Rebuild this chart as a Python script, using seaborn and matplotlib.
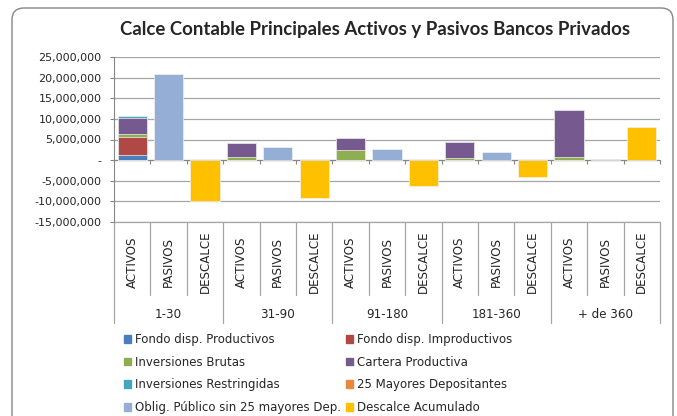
import numpy as np
import pandas as pd
import matplotlib
matplotlib.use("Agg")
import matplotlib.pyplot as plt
import matplotlib.transforms as mtransforms
from matplotlib.patches import Patch, FancyBboxPatch
from matplotlib.ticker import FuncFormatter
import seaborn as sns

sns.set_style("white")
plt.rcParams['font.family'] = ['DejaVu Sans']

# plazos y tipos de barra
plazos = ["1-30", "31-90", "91-180", "181-360", "+ de 360"]
tipos = ["ACTIVOS", "PASIVOS", "DESCALCE"]

# valores en millones
# ACTIVOS
fondo_prod = [1.2, 0, 0, 0, 0]
fondo_improd = [4.45, 0, 0, 0, 0]
inv_brutas = [0.65, 0.73, 2.35, 0.5, 0.73]
cartera = [3.9, 3.5, 3.05, 3.87, 11.47]
inv_restr = [0.5, 0, 0, 0, 0]
# PASIVOS
mayores_25 = [0, 0, 0, 0, 0]
oblig_publico = [20.8, 3.07, 2.67, 1.94, 0.24]
# DESCALCE
descalce = [-9.95, -9.1, -6.3, -4.04, 8.1]

# colores
c_fprod = "#4A7EBB"
c_fimp = "#B04845"
c_inv = "#8FAE52"
c_cart = "#76598F"
c_restr = "#46A5BE"
c_may = "#E8883E"
c_obl = "#95AED5"
c_desc = "#FFC000"

keys = [p + "|" + t for p in plazos for t in tipos]

fig = plt.figure(figsize=(6.77, 4.16), dpi=100)
ax = fig.add_axes([114 / 677, 1 - 222 / 416, 546 / 677, 165 / 416])


def barras(valores, tipo, color):
    df = pd.DataFrame({"barra": [p + "|" + tipo for p in plazos],
                       "valor": np.array(valores) * 1e6})
    df = df[df["valor"] != 0]
    if len(df) == 0:
        return
    sns.barplot(data=df, x="barra", y="valor", order=keys, color=color,
                saturation=1, width=0.8, edgecolor="#f2f2f2", linewidth=0.5,
                errorbar=None, ax=ax, zorder=3)


# ACTIVOS apilados (se pintan los acumulados de arriba hacia abajo)
capas = [(fondo_prod, c_fprod), (fondo_improd, c_fimp), (inv_brutas, c_inv),
         (cartera, c_cart), (inv_restr, c_restr)]
acum = np.cumsum([np.array(v) for v, c in capas], axis=0)
for k in range(len(capas) - 1, -1, -1):
    barras(acum[k], "ACTIVOS", capas[k][1])

# PASIVOS
barras(np.array(mayores_25) + np.array(oblig_publico), "PASIVOS", c_obl)
barras(mayores_25, "PASIVOS", c_may)

# DESCALCE
barras(descalce, "DESCALCE", c_desc)

ax.set_xlim(-0.5, len(keys) - 0.5)
ax.set_ylim(-15e6, 25e6)
ax.set_yticks(np.arange(-15e6, 25e6 + 1, 5e6))
ax.yaxis.set_major_formatter(FuncFormatter(lambda v, p: "-" if v == 0 else f"{v:,.0f}"))
ax.tick_params(axis="y", labelsize=8, length=3, color="#868686", pad=6, left=True)
ax.yaxis.grid(True, color="#a6a6a6", lw=0.9)
ax.axhline(-15e6, color="#a6a6a6", lw=0.9, clip_on=False)
ax.set_axisbelow(True)
ax.set_xlabel("")
ax.set_ylabel("")

for s in ["top", "right"]:
    ax.spines[s].set_visible(False)
ax.spines["left"].set_color("#868686")
ax.spines["bottom"].set_position(("data", 0))
ax.spines["bottom"].set_color("#868686")
ax.set_xticks(np.arange(-0.5, len(keys), 1.0))
ax.set_xticklabels([])
ax.tick_params(axis="x", length=3, color="#868686", bottom=True, direction="out")

# tabla de categorias bajo el grafico
trans = mtransforms.blended_transform_factory(ax.transData, fig.transFigure)
for i, k in enumerate(keys):
    ax.text(i, 1 - 262 / 416, k.split("|")[1], rotation=90, ha="center",
            va="center", fontsize=8.6, transform=trans, clip_on=False)
for g, p in enumerate(plazos):
    ax.text(g * 3 + 1, 1 - 314 / 416, p, ha="center", va="center",
            fontsize=8.6, transform=trans, clip_on=False)
for b in np.arange(-0.5, len(keys), 1.0):
    fin = 323 if (b + 0.5) % 3 == 0 else 295
    ax.plot([b, b], [1 - 222 / 416, 1 - fin / 416], color="#a6a6a6", lw=0.9,
            transform=trans, clip_on=False)

fig.text(375 / 677, 1 - 30 / 416,
         "Calce Contable Principales Activos y Pasivos Bancos Privados",
         ha="center", va="center", fontsize=13.4, fontweight="bold",
         family="Lato")

# leyenda (orden por columnas)
handles = [Patch(color=c_fprod, label="Fondo disp. Productivos"),
           Patch(color=c_inv, label="Inversiones Brutas"),
           Patch(color=c_restr, label="Inversiones Restringidas"),
           Patch(color=c_obl, label="Oblig. Público sin 25 mayores Dep."),
           Patch(color=c_fimp, label="Fondo disp. Improductivos"),
           Patch(color=c_cart, label="Cartera Productiva"),
           Patch(color=c_may, label="25 Mayores Depositantes"),
           Patch(color=c_desc, label="Descalce Acumulado")]
fig.legend(handles=handles, ncol=2, loc="upper left",
           bbox_to_anchor=(124 / 677, 1 - 333 / 416), frameon=False,
           fontsize=8.5, handlelength=0.6, handleheight=0.6, handletextpad=0.35,
           columnspacing=0.42, labelspacing=0.82, borderpad=0, borderaxespad=0)

# marco redondeado del grafico
fig.patches.append(FancyBboxPatch((12, -30), 661, 438,
                                  boxstyle="round,pad=0,rounding_size=12",
                                  transform=None, fill=False,
                                  ec="#868686", lw=1))

fig.savefig("out.png", dpi=100)
